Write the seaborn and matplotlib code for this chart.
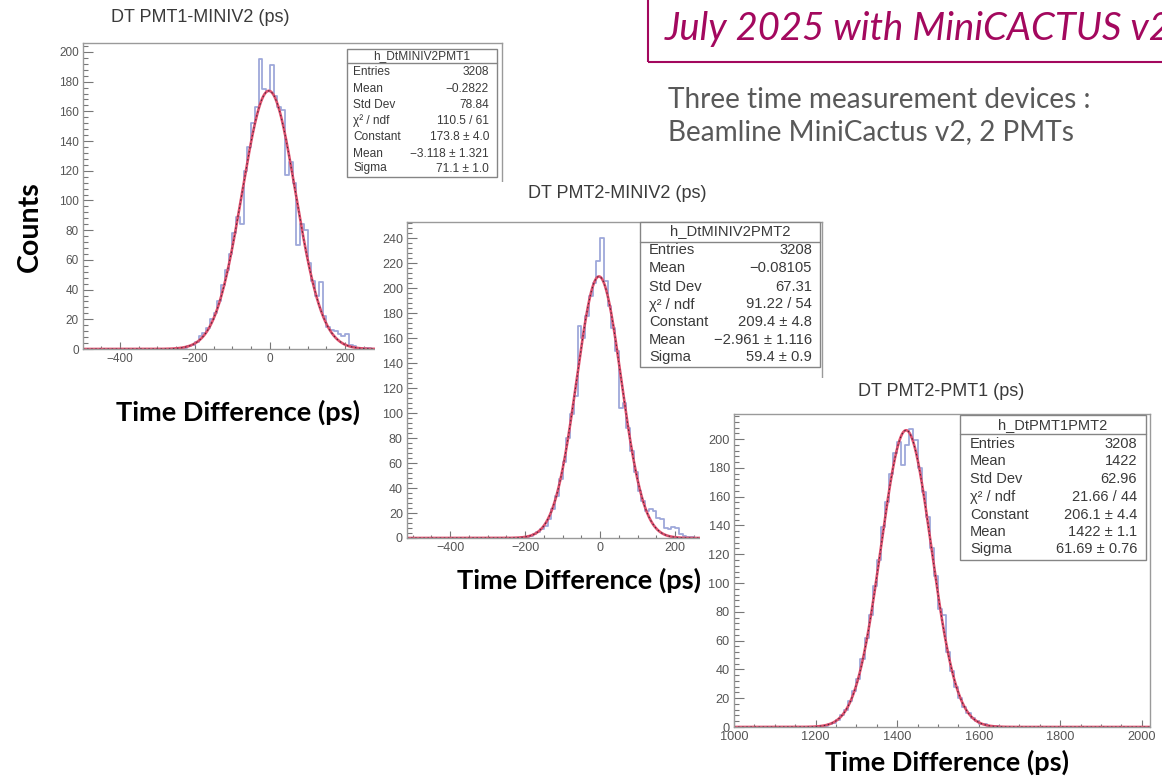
import numpy as np
import pandas as pd
import matplotlib
matplotlib.use("Agg")
import matplotlib.pyplot as plt
import seaborn as sns
from matplotlib.patches import Rectangle
from matplotlib.lines import Line2D
from matplotlib.ticker import MultipleLocator

# ---------------------------------------------------------------- data
BIN_W = 10  # ps per bin

# DT PMT1 - MINIV2
p1_start = -250
p1_counts = [1, 1, 1, 2, 3, 5, 9, 11, 14, 20,
             24, 32, 43, 53, 64, 78, 89, 84, 120, 136,
             152, 163, 195, 175, 174, 191, 170, 163, 161, 117,
             126, 112, 70, 84, 80, 58, 46, 36, 45, 22,
             15, 13, 12, 10, 9, 10, 3, 2, 1, 1, 1, 1]
p1_fit = (173.8, -3.118, 71.1)
p1_stats = [("Entries", "3208"), ("Mean", "\u22120.2822"), ("Std Dev", "78.84"),
            ("\u03c7\u00b2 / ndf", "110.5 / 61"), ("Constant", "173.8 \u00b1 4.0"),
            ("Mean", "\u22123.118 \u00b1 1.321"), ("Sigma", "71.1 \u00b1 1.0")]

# DT PMT2 - MINIV2
p2_start = -210
p2_counts = [1, 1, 2, 3, 5, 7, 10, 15, 23, 34,
             47, 61, 80, 99, 114, 170, 160, 178, 194, 204,
             222, 240, 206, 186, 168, 150, 104, 108, 88, 70,
             53, 38, 30, 22, 23, 22, 16, 15, 8, 7,
             9, 8, 3, 2, 1, 1]
p2_fit = (209.4, -2.961, 59.4)
p2_stats = [("Entries", "3208"), ("Mean", "\u22120.08105"), ("Std Dev", "67.31"),
            ("\u03c7\u00b2 / ndf", "91.22 / 54"), ("Constant", "209.4 \u00b1 4.8"),
            ("Mean", "\u22122.961 \u00b1 1.116"), ("Sigma", "59.4 \u00b1 0.9")]

# DT PMT2 - PMT1
p3_start = 1220
p3_counts = [1, 2, 3, 5, 8, 12, 18, 25, 33, 47,
             62, 78, 98, 116, 139, 156, 176, 190, 198, 182,
             196, 207, 199, 180, 163, 146, 124, 105, 82, 78,
             52, 39, 28, 20, 14, 10, 6, 4, 2, 2,
             1, 0, 1]
p3_fit = (206.1, 1422.0, 61.69)
p3_stats = [("Entries", "3208"), ("Mean", "1422"), ("Std Dev", "62.96"),
            ("\u03c7\u00b2 / ndf", "21.66 / 44"), ("Constant", "206.1 \u00b1 4.4"),
            ("Mean", "1422 \u00b1 1.1"), ("Sigma", "61.69 \u00b1 0.76")]

titles = ["DT PMT1-MINIV2 (ps)", "DT PMT2-MINIV2 (ps)", "DT PMT2-PMT1 (ps)"]
hist_names = ["h_DtMINIV2PMT1", "h_DtMINIV2PMT2", "h_DtPMT1PMT2"]
x_label = "Time Difference (ps)"
y_label = "Counts"
slide_title = "July 2025 with MiniCACTUS v2"
slide_lines = ["Three time measurement devices :", "Beamline MiniCactus v2, 2 PMTs"]

# ---------------------------------------------------------------- style
W, H = 1162, 777
sns.set_theme(style="white")
plt.rcParams["font.family"] = ["Liberation Sans", "DejaVu Sans"]
SLIDE_FONT = ["Lato", "DejaVu Sans"]

HIST_C = "#9ea8da"
FIT_C = "#e0506e"
FRAME_C = "#9a9a9a"
TEXT_C = "#3a3a3a"
TICK_C = "#555555"
ACCENT = "#a3085e"

fig = plt.figure(figsize=(W / 100, H / 100), dpi=100)
fig.patch.set_facecolor("white")


def frect(x0, y0, x1, y1):
    return [x0 / W, 1 - y1 / H, (x1 - x0) / W, (y1 - y0) / H]


def fx(px):
    return px / W


def fy(py):
    return 1 - py / H


def card(x0, y0, x1, y1):
    """White sheet that hides whatever lies beneath it."""
    c = fig.add_axes(frect(x0, y0, x1, y1))
    c.set_axis_off()
    c.add_patch(Rectangle((0, 0), 1, 1, transform=c.transAxes,
                          facecolor="white", edgecolor="none"))
    return c


def panel(rect, start, counts, fit, xlim, ylim, xmajor, label_size):
    ax = fig.add_axes(rect)
    counts = np.asarray([0] + list(counts) + [0], dtype=float)
    lo = start - BIN_W
    hi = lo + BIN_W * len(counts)
    centers = lo + BIN_W * (np.arange(len(counts)) + 0.5)
    df = pd.DataFrame({"t": centers, "n": counts})
    sns.histplot(data=df, x="t", weights="n", binwidth=BIN_W, binrange=(lo, hi),
                 element="step", fill=False, color=HIST_C, linewidth=1.3, ax=ax)
    const, mean, sigma = fit
    xs = np.linspace(xlim[0], xlim[1], 1200)
    ys = const * np.exp(-0.5 * ((xs - mean) / sigma) ** 2)
    sns.lineplot(x=xs, y=ys, color=FIT_C, linewidth=1.9, ax=ax)
    ax.plot(xs, ys, color="#3a2838", linewidth=0.7, dashes=(1.6, 2.6))
    ax.set_xlim(*xlim)
    ax.set_ylim(*ylim)
    ax.set_xlabel("")
    ax.set_ylabel("")
    ax.xaxis.set_major_locator(MultipleLocator(xmajor))
    ax.xaxis.set_minor_locator(MultipleLocator(50))
    ax.yaxis.set_major_locator(MultipleLocator(20))
    ax.yaxis.set_minor_locator(MultipleLocator(4))
    ax.tick_params(which="both", direction="in", left=True, bottom=True,
                   top=False, right=False, color="#777777", width=0.8,
                   labelsize=label_size, labelcolor=TICK_C, pad=3)
    ax.tick_params(axis="y", which="major", length=7)
    ax.tick_params(axis="y", which="minor", length=3.5)
    ax.tick_params(axis="x", which="major", length=5)
    ax.tick_params(axis="x", which="minor", length=2.5)
    for s in ax.spines.values():
        s.set_color(FRAME_C)
        s.set_linewidth(1.0)
    ax.set_facecolor("white")
    return ax


def stats_box(ax, box, name, rows, header_y, line_y, row_ys, name_x, value_x, fs):
    x0, y0, x1, y1 = box
    tf = fig.transFigure
    ax.add_patch(Rectangle((fx(x0), fy(y1)), (x1 - x0) / W, (y1 - y0) / H,
                           transform=tf, facecolor="white", edgecolor="#858585",
                           linewidth=1.0, clip_on=False, zorder=10))
    ax.add_line(Line2D([fx(x0), fx(x1)], [fy(line_y), fy(line_y)], transform=tf,
                       color="#858585", linewidth=1.0, clip_on=False, zorder=11))
    ax.text(fx(0.5 * (x0 + x1)), fy(header_y), name, transform=tf, ha="center",
            va="center", fontsize=fs, color=TEXT_C, zorder=12, clip_on=False)
    for (lab, val), ry in zip(rows, row_ys):
        ax.text(fx(name_x), fy(ry), lab, transform=tf, ha="left", va="center",
                fontsize=fs, color=TEXT_C, zorder=12, clip_on=False)
        ax.text(fx(value_x), fy(ry), val, transform=tf, ha="right", va="center",
                fontsize=fs, color=TEXT_C, zorder=12, clip_on=False)


# ---------------------------------------------------------------- panel 1
ax1 = panel(frect(83, 43, 502, 349), p1_start, p1_counts, p1_fit,
            (-498, 618), (0, 206), 200, 8.5)
stats_box(ax1, (347, 49, 497, 177), hist_names[0], p1_stats, 56.5, 63,
          [72, 88.5, 105, 121, 137.5, 154, 168.5], 353, 489, 8.6)

# ---------------------------------------------------------------- panel 2
card(375, 182, 835, 600)
ax2 = panel(frect(407, 222, 822, 538), p2_start, p2_counts, p2_fit,
            (-515, 592), (0, 253), 200, 9.0)
stats_box(ax2, (640, 222, 820, 367), hist_names[1], p2_stats, 231.5, 242,
          [250.5, 268.5, 286.5, 304.5, 322.5, 340.5, 357], 649, 812, 10.6)

# ---------------------------------------------------------------- panel 3
card(700, 378, 1162, 777)
ax3 = panel(frect(734, 414, 1150, 727), p3_start, p3_counts, p3_fit,
            (1000, 2020), (0, 217.4), 200, 9.2)
stats_box(ax3, (960, 415, 1146, 560), hist_names[2], p3_stats, 425, 434,
          [444, 461.5, 479, 497, 515, 532, 549], 970, 1137, 10.5)

# ---------------------------------------------------------------- titles & slide text
for (cx, cy), t in zip([(200, 18), (617, 193), (941, 392)], titles):
    fig.text(fx(cx), fy(cy), t, ha="center", va="center", fontsize=13, color=TEXT_C)

fig.text(fx(30), fy(227), y_label, rotation=90, ha="center", va="center",
         fontsize=20.5, fontweight="bold", family=SLIDE_FONT, color="black")
for cx, cy in [(238, 412), (579, 580), (947, 762)]:
    fig.text(fx(cx), fy(cy), x_label, ha="center", va="center", fontsize=19.5,
             fontweight="bold", family=SLIDE_FONT, color="black")

fig.add_artist(Rectangle((fx(648), fy(62)), (1200 - 648) / W, 80 / H,
                         transform=fig.transFigure, facecolor="none",
                         edgecolor=ACCENT, linewidth=1.5))
fig.text(fx(665), fy(40), slide_title, ha="left", va="baseline", fontsize=27.5,
         style="italic", family=SLIDE_FONT, color=ACCENT)
for ly, line in zip([108, 140], slide_lines):
    fig.text(fx(668), fy(ly), line, ha="left", va="baseline", fontsize=20.2,
             family=SLIDE_FONT, color="#595959")

fig.savefig("out.png", dpi=100, facecolor="white")
